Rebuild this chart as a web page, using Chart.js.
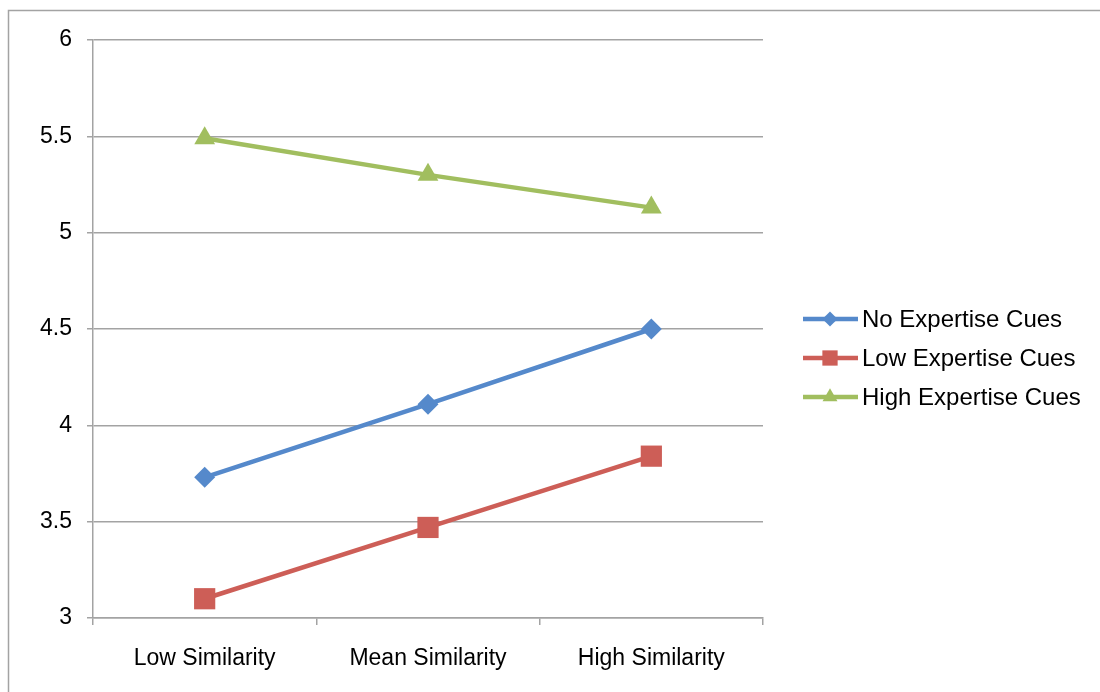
<!DOCTYPE html>
<html>
<head>
<meta charset="utf-8">
<script src="https://cdn.jsdelivr.net/npm/chart.js@4"></script>
<style>
  html, body { margin: 0; padding: 0; background: #fff; }
  #wrap { width: 1100px; height: 692px; position: relative; }
</style>
</head>
<body>
<div id="wrap"><canvas id="myChart" width="1100" height="692"></canvas></div>
<script>
const categories = ['Low Similarity', 'Mean Similarity', 'High Similarity'];
const noCues = [3.73, 4.11, 4.50];
const lowCues = [3.10, 3.47, 3.84];
const highCues = [5.49, 5.30, 5.13];
const seriesNames = ['No Expertise Cues', 'Low Expertise Cues', 'High Expertise Cues'];

const gray = '#a3a3a3';
const fontFamily = '"Liberation Sans", Arial, Helvetica, sans-serif';

// frame around the whole picture + legend with line and marker
const extras = {
  id: 'extras',
  beforeDraw(chart) {
    const ctx = chart.ctx;
    ctx.save();
    ctx.fillStyle = '#fff';
    ctx.fillRect(0, 0, chart.width, chart.height);
    ctx.strokeStyle = gray;
    ctx.lineWidth = 1.5;
    ctx.strokeRect(8.5, 10.5, 1200, 800);
    ctx.restore();
  },
  afterDraw(chart) {
    const ctx = chart.ctx;
    ctx.save();
    chart.data.datasets.forEach((ds, i) => {
      const y = 319 + i * 39;
      ctx.strokeStyle = ds.borderColor;
      ctx.lineWidth = ds.borderWidth;
      ctx.beginPath();
      ctx.moveTo(803, y);
      ctx.lineTo(858, y);
      ctx.stroke();
      ctx.fillStyle = ds.backgroundColor;
      Chart.helpers.drawPoint(ctx, {
        pointStyle: ds.pointStyle,
        radius: ds.pointRadius * 0.72,
        rotation: 0,
        borderWidth: 0
      }, 830, y);
      ctx.fillStyle = '#000';
      ctx.font = '24px ' + fontFamily;
      ctx.textBaseline = 'middle';
      ctx.textAlign = 'left';
      ctx.fillText(ds.label, 862, y + 1);
    });
    ctx.restore();
  }
};

function series(label, data, color, style, radius) {
  return {
    label: label,
    data: data,
    borderColor: color,
    backgroundColor: color,
    borderWidth: 4.5,
    pointStyle: style,
    pointRadius: radius,
    pointHoverRadius: radius,
    pointBorderWidth: 0,
    tension: 0
  };
}

new Chart(document.getElementById('myChart'), {
  type: 'line',
  data: {
    labels: categories,
    datasets: [
      series(seriesNames[0], noCues, '#5589CB', 'rectRot', 10.5),
      series(seriesNames[1], lowCues, '#CD5E57', 'rect', 15),
      series(seriesNames[2], highCues, '#A1BE5F', 'triangle', 12)
    ]
  },
  options: {
    responsive: false,
    animation: false,
    layout: { padding: { top: 40, right: 337, left: 0, bottom: 0 } },
    plugins: {
      legend: { display: false },
      tooltip: { enabled: false }
    },
    scales: {
      x: {
        offset: true,
        afterFit(scale) { scale.height = 74; },
        grid: {
          offset: true,
          drawOnChartArea: false,
          color: gray,
          lineWidth: 1.5,
          tickLength: 7
        },
        border: { display: true, color: gray, width: 1.5 },
        ticks: {
          color: '#000',
          font: { family: fontFamily, size: 23 },
          padding: 20,
          maxRotation: 0
        }
      },
      y: {
        min: 3,
        max: 6,
        afterFit(scale) { scale.width = 93; },
        grid: {
          color: gray,
          lineWidth: 1.5,
          tickLength: 6
        },
        border: { display: true, color: gray, width: 1.5 },
        ticks: {
          stepSize: 0.5,
          color: '#000',
          font: { family: fontFamily, size: 23 },
          padding: 15,
          callback: v => String(v)
        }
      }
    }
  },
  plugins: [extras]
});
</script>
</body>
</html>
